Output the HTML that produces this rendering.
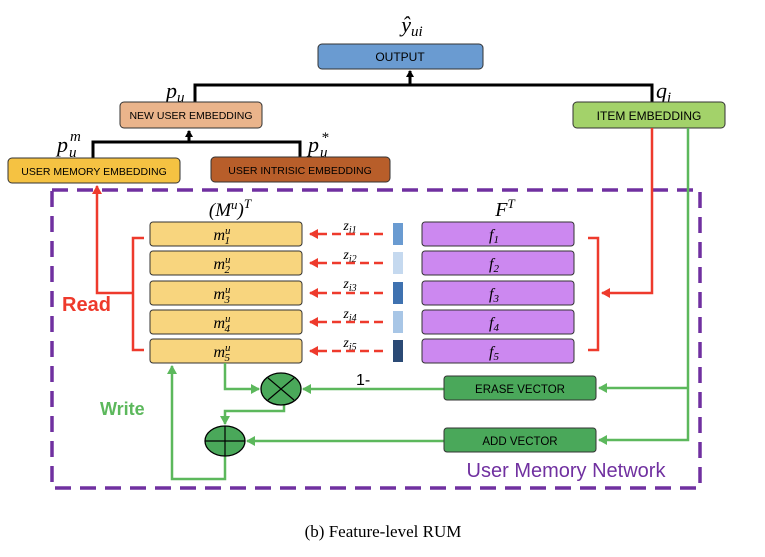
<!DOCTYPE html>
<html><head><style>
body{margin:0;background:#fff;}
svg text{font-family:"Liberation Sans",sans-serif;}
svg .m, svg .m text{font-family:"Liberation Serif",serif;font-style:italic;}
</style></head><body>
<svg width="765" height="552" viewBox="0 0 765 552" xmlns="http://www.w3.org/2000/svg">
<defs>
<marker id="ak" markerWidth="8" markerHeight="8" refX="6" refY="4" orient="auto" markerUnits="userSpaceOnUse"><path d="M0,0 L7,4 L0,8z" fill="#000"/></marker>
<marker id="ar" markerWidth="10" markerHeight="10" refX="8" refY="5" orient="auto" markerUnits="userSpaceOnUse"><path d="M0,0 L9,5 L0,10z" fill="#ee3a2c"/></marker>
<marker id="ag" markerWidth="10" markerHeight="10" refX="8" refY="5" orient="auto" markerUnits="userSpaceOnUse"><path d="M0,0 L9,5 L0,10z" fill="#5cb85c"/></marker>
</defs>
<rect x="318" y="44" width="165" height="25" rx="4" fill="#6a9bd1" stroke="#333"/>
<text x="400" y="61" font-size="12" text-anchor="middle">OUTPUT</text>
<text x="412" y="32" class="m" font-size="22" text-anchor="middle">ŷ<tspan font-size="15" dy="4">ui</tspan></text>
<path d="M195,102 V85 H652 V102" fill="none" stroke="#000" stroke-width="3"/>
<line x1="410" y1="85" x2="410" y2="71" stroke="#000" stroke-width="3" marker-end="url(#ak)"/>
<text x="166" y="98" class="m" font-size="22">p<tspan font-size="15" dy="4">u</tspan></text>
<text x="656" y="98" class="m" font-size="22">q<tspan font-size="15" dy="4">i</tspan></text>
<rect x="120" y="102" width="142" height="26" rx="4" fill="#eab48b" stroke="#333"/>
<text x="191" y="119" font-size="10.5" text-anchor="middle">NEW USER EMBEDDING</text>
<rect x="573" y="102" width="152" height="26" rx="4" fill="#a3d26a" stroke="#333"/>
<text x="649" y="120" font-size="12" text-anchor="middle">ITEM EMBEDDING</text>
<path d="M93,158 V142 H300 V158" fill="none" stroke="#000" stroke-width="3"/>
<line x1="189" y1="142" x2="189" y2="131" stroke="#000" stroke-width="3" marker-end="url(#ak)"/>
<text x="57" y="152" class="m" font-size="22">p</text><text x="69" y="157" class="m" font-size="15">u</text><text x="70" y="141" class="m" font-size="15">m</text>
<text x="308" y="152" class="m" font-size="22">p</text><text x="320" y="157" class="m" font-size="15">u</text><text x="321" y="142" class="m" font-size="15">*</text>
<rect x="8" y="158" width="172" height="25" rx="4" fill="#f5c242" stroke="#333"/>
<text x="94" y="175" font-size="10.5" text-anchor="middle">USER MEMORY EMBEDDING</text>
<rect x="211" y="157" width="179" height="25" rx="4" fill="#b85e2a" stroke="#333"/>
<text x="300" y="174" font-size="10.5" text-anchor="middle">USER INTRISIC EMBEDDING</text>
<rect x="52" y="190" width="648" height="298" fill="none" stroke="#7030a0" stroke-width="3.5" stroke-dasharray="16,9"/>
<text x="566" y="477" font-size="20" fill="#7030a0" text-anchor="middle">User Memory Network</text>
<text x="230" y="216" class="m" font-size="19" text-anchor="middle">(M<tspan font-size="13" dy="-7">u</tspan><tspan dy="7">)</tspan><tspan font-size="13" dy="-8">T</tspan></text>
<text x="505" y="216" class="m" font-size="20" text-anchor="middle">F<tspan font-size="13" dy="-8">T</tspan></text>
<g>
<rect x="150" y="222" width="152" height="24" rx="3" fill="#f8d57e" stroke="#333"/>
<rect x="150" y="251" width="152" height="24" rx="3" fill="#f8d57e" stroke="#333"/>
<rect x="150" y="281" width="152" height="24" rx="3" fill="#f8d57e" stroke="#333"/>
<rect x="150" y="310" width="152" height="24" rx="3" fill="#f8d57e" stroke="#333"/>
<rect x="150" y="339" width="152" height="24" rx="3" fill="#f8d57e" stroke="#333"/>
<rect x="422" y="222" width="152" height="24" rx="3" fill="#cc88f0" stroke="#333"/>
<rect x="422" y="251" width="152" height="24" rx="3" fill="#cc88f0" stroke="#333"/>
<rect x="422" y="281" width="152" height="24" rx="3" fill="#cc88f0" stroke="#333"/>
<rect x="422" y="310" width="152" height="24" rx="3" fill="#cc88f0" stroke="#333"/>
<rect x="422" y="339" width="152" height="24" rx="3" fill="#cc88f0" stroke="#333"/>
<rect x="393" y="223" width="10" height="22" fill="#6a9bd1"/>
<rect x="393" y="252" width="10" height="22" fill="#c5d9ef"/>
<rect x="393" y="282" width="10" height="22" fill="#3f72b0"/>
<rect x="393" y="311" width="10" height="22" fill="#a8c6e6"/>
<rect x="393" y="340" width="10" height="22" fill="#2b4a75"/>
</g>
<g class="m" font-size="16" text-anchor="middle">
<text x="222" y="240">m<tspan font-size="11" dy="-6">u</tspan><tspan font-size="11" dx="-6" dy="10">1</tspan></text>
<text x="222" y="269">m<tspan font-size="11" dy="-6">u</tspan><tspan font-size="11" dx="-6" dy="10">2</tspan></text>
<text x="222" y="299">m<tspan font-size="11" dy="-6">u</tspan><tspan font-size="11" dx="-6" dy="10">3</tspan></text>
<text x="222" y="328">m<tspan font-size="11" dy="-6">u</tspan><tspan font-size="11" dx="-6" dy="10">4</tspan></text>
<text x="222" y="357">m<tspan font-size="11" dy="-6">u</tspan><tspan font-size="11" dx="-6" dy="10">5</tspan></text>
<text x="494" y="240">f<tspan font-size="11" dy="3">1</tspan></text>
<text x="494" y="269">f<tspan font-size="11" dy="3">2</tspan></text>
<text x="494" y="299">f<tspan font-size="11" dy="3">3</tspan></text>
<text x="494" y="328">f<tspan font-size="11" dy="3">4</tspan></text>
<text x="494" y="357">f<tspan font-size="11" dy="3">5</tspan></text>
<text x="350" y="230" font-size="14">z<tspan font-size="10" dy="3">i1</tspan></text>
<text x="350" y="259" font-size="14">z<tspan font-size="10" dy="3">i2</tspan></text>
<text x="350" y="288" font-size="14">z<tspan font-size="10" dy="3">i3</tspan></text>
<text x="350" y="318" font-size="14">z<tspan font-size="10" dy="3">i4</tspan></text>
<text x="350" y="347" font-size="14">z<tspan font-size="10" dy="3">i5</tspan></text>
</g>
<g stroke="#ee3a2c" stroke-width="2.5" fill="none" stroke-dasharray="9,5">
<line x1="383" y1="234" x2="310" y2="234" marker-end="url(#ar)"/>
<line x1="383" y1="263" x2="310" y2="263" marker-end="url(#ar)"/>
<line x1="383" y1="293" x2="310" y2="293" marker-end="url(#ar)"/>
<line x1="383" y1="322" x2="310" y2="322" marker-end="url(#ar)"/>
<line x1="383" y1="351" x2="310" y2="351" marker-end="url(#ar)"/>
</g>
<g stroke="#ee3a2c" stroke-width="2.5" fill="none">
<path d="M144,238 H133 V350 H144"/>
<path d="M588,238 H598 V350 H588"/>
<path d="M133,293 H97 V186" marker-end="url(#ar)"/>
<path d="M652,128 V293 H602" marker-end="url(#ar)"/>
</g>
<text x="62" y="311" font-size="20" font-weight="bold" fill="#ee3a2c">Read</text>
<g stroke="#5cb85c" stroke-width="2.5" fill="none">
<path d="M688,128 V440 H599" marker-end="url(#ag)"/>
<path d="M688,388 H599" marker-end="url(#ag)"/>
<path d="M444,389 H303" marker-end="url(#ag)"/>
<path d="M444,441 H247" marker-end="url(#ag)"/>
<path d="M225,363 V389 H259" marker-end="url(#ag)"/>
<path d="M284,405 V411 H225 V424" marker-end="url(#ag)"/>
<path d="M225,456 V479 H172 V366" marker-end="url(#ag)"/>
</g>
<ellipse cx="281" cy="389" rx="20" ry="16" fill="#4aa85a" stroke="#000" stroke-width="1.3"/>
<path d="M268,378 L294,400 M294,378 L268,400" stroke="#000" stroke-width="1.2"/>
<ellipse cx="225" cy="441" rx="20" ry="15" fill="#4aa85a" stroke="#000" stroke-width="1.3"/>
<path d="M205,441 H245 M225,426 V456" stroke="#000" stroke-width="1.2"/>
<text x="356" y="385" font-size="16">1-</text>
<rect x="444" y="376" width="152" height="24" rx="3" fill="#4aa85a" stroke="#333"/>
<text x="520" y="393" font-size="11.5" text-anchor="middle">ERASE VECTOR</text>
<rect x="444" y="428" width="152" height="24" rx="3" fill="#4aa85a" stroke="#333"/>
<text x="520" y="445" font-size="11.5" text-anchor="middle">ADD VECTOR</text>
<text x="100" y="415" font-size="18" font-weight="bold" fill="#5cb85c">Write</text>
<text x="383" y="537" font-size="17" text-anchor="middle" style="font-family:'Liberation Serif',serif">(b)  Feature-level RUM</text>
</svg>
</body></html>
